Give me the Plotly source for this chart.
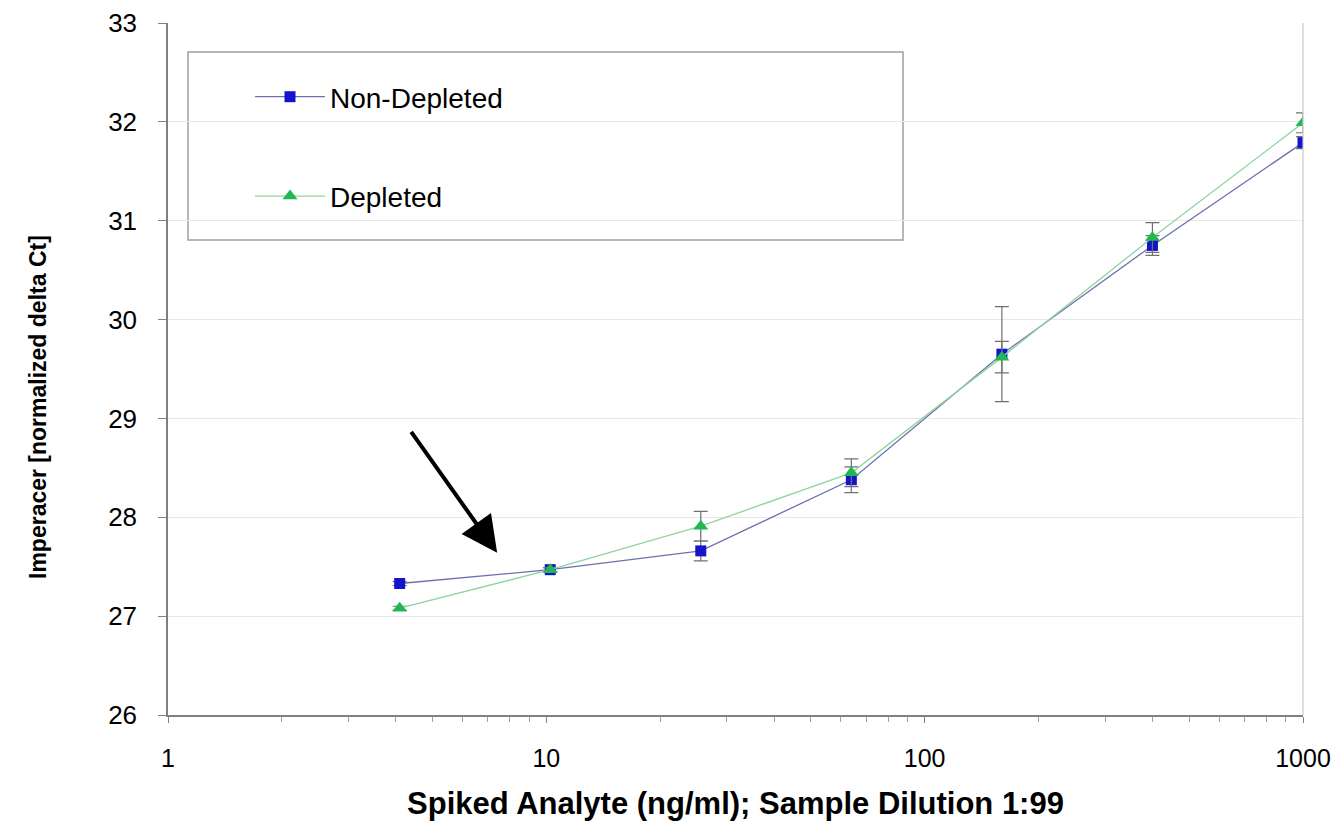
import plotly.graph_objects as go

conc = [4.096, 10.24, 25.6, 64, 160, 400, 1000]
non_depleted = [27.33, 27.47, 27.66, 28.38, 29.65, 30.75, 31.79]
non_depleted_err = [0.02, 0.02, 0.10, 0.13, 0.48, 0.10, 0.06]
depleted = [27.08, 27.47, 27.91, 28.45, 29.62, 30.83, 31.99]
depleted_err = [0.02, 0.02, 0.15, 0.14, 0.16, 0.15, 0.10]
major_ticks = [1, 10, 100, 1000]
major_labels = ["1", "10", "100", "1000"]
minor_ticks = [m * d for d in (1, 10, 100) for m in range(2, 10)]

FONT = "Liberation Sans, Arial, sans-serif"

fig = go.Figure()
fig.add_trace(go.Scatter(
    x=conc, y=non_depleted, name="Non-Depleted", mode="lines+markers",
    legendgroup="a",
    line=dict(color="#6f6fb0", width=1.3),
    marker=dict(symbol="square", size=11, color="#1414cc", line=dict(width=0)),
    error_y=dict(type="data", array=non_depleted_err, color="#707070", thickness=1.2, width=7),
))
fig.add_trace(go.Scatter(
    x=conc, y=depleted, name="Depleted", mode="lines+markers",
    legendgroup="b",
    line=dict(color="#8fd4a0", width=1.3),
    marker=dict(symbol="triangle-up", size=13, color="#20b850", line=dict(width=0)),
    error_y=dict(type="data", array=depleted_err, color="#707070", thickness=1.2, width=7),
))

# legend frame
fig.add_shape(type="rect", xref="paper", yref="paper",
              x0=(188-168)/1135, x1=(903-168)/1135,
              y0=(715-240)/692, y1=(715-52)/692,
              line=dict(color="#a0a0a0", width=1.5), fillcolor="white", layer="below")
# right border
fig.add_shape(type="line", xref="paper", yref="paper", x0=1, x1=1, y0=0, y1=1,
              line=dict(color="#c8c8c8", width=1.2))

fig.add_annotation(x=0.87, y=27.64, ax=0.64, ay=28.88, xref="x", yref="y",
                   axref="x", ayref="y", showarrow=True, arrowhead=2,
                   arrowsize=1.8, arrowwidth=4, arrowcolor="black", text="", standoff=0)

# y-axis title
fig.add_annotation(text="<b>Imperacer [normalized delta Ct]</b>", textangle=-90,
                   xref="paper", yref="paper", x=(38-168)/1135, y=(715-407)/692,
                   xanchor="center", yanchor="middle", showarrow=False,
                   font=dict(size=23, family=FONT, color="black"))

fig.update_layout(
    width=1332, height=827,
    margin=dict(l=168, r=29, t=23, b=112, autoexpand=False),
    paper_bgcolor="white", plot_bgcolor="white",
    font=dict(family=FONT, color="black"),
    showlegend=True,
    legend=dict(x=(250-168)/1135, y=(715-72)/692, xanchor="left", yanchor="top",
                bgcolor="rgba(0,0,0,0)", borderwidth=0, itemwidth=70,
                font=dict(size=28, family=FONT), tracegroupgap=60,
                traceorder="grouped"),
    xaxis=dict(
        type="log", range=[0, 3], automargin=False,
        tickmode="array", tickvals=major_ticks, ticktext=major_labels,
        ticks="outside", ticklen=6, tickcolor="#808080",
        showline=True, linecolor="#808080", linewidth=1.5,
        showgrid=False, zeroline=False, ticklabelstandoff=14,
        tickfont=dict(size=25, family=FONT),
        minor=dict(tickmode="array", tickvals=minor_ticks, ticks="outside",
                   ticklen=5, tickcolor="#a0a0a0", showgrid=False),
        title=dict(text="<b>Spiked Analyte (ng/ml); Sample Dilution 1:99</b>",
                   font=dict(size=31, family=FONT), standoff=22),
    ),
    yaxis=dict(
        range=[26, 33], dtick=1, automargin=False,
        ticks="outside", ticklen=8, tickcolor="#808080",
        showline=True, linecolor="#808080", linewidth=1.5,
        showgrid=True, gridcolor="#e8e8e8", gridwidth=1.2, zeroline=False,
        ticklabelstandoff=16,
        tickfont=dict(size=26, family=FONT),
    ),
)

fig.write_html("out.html")
